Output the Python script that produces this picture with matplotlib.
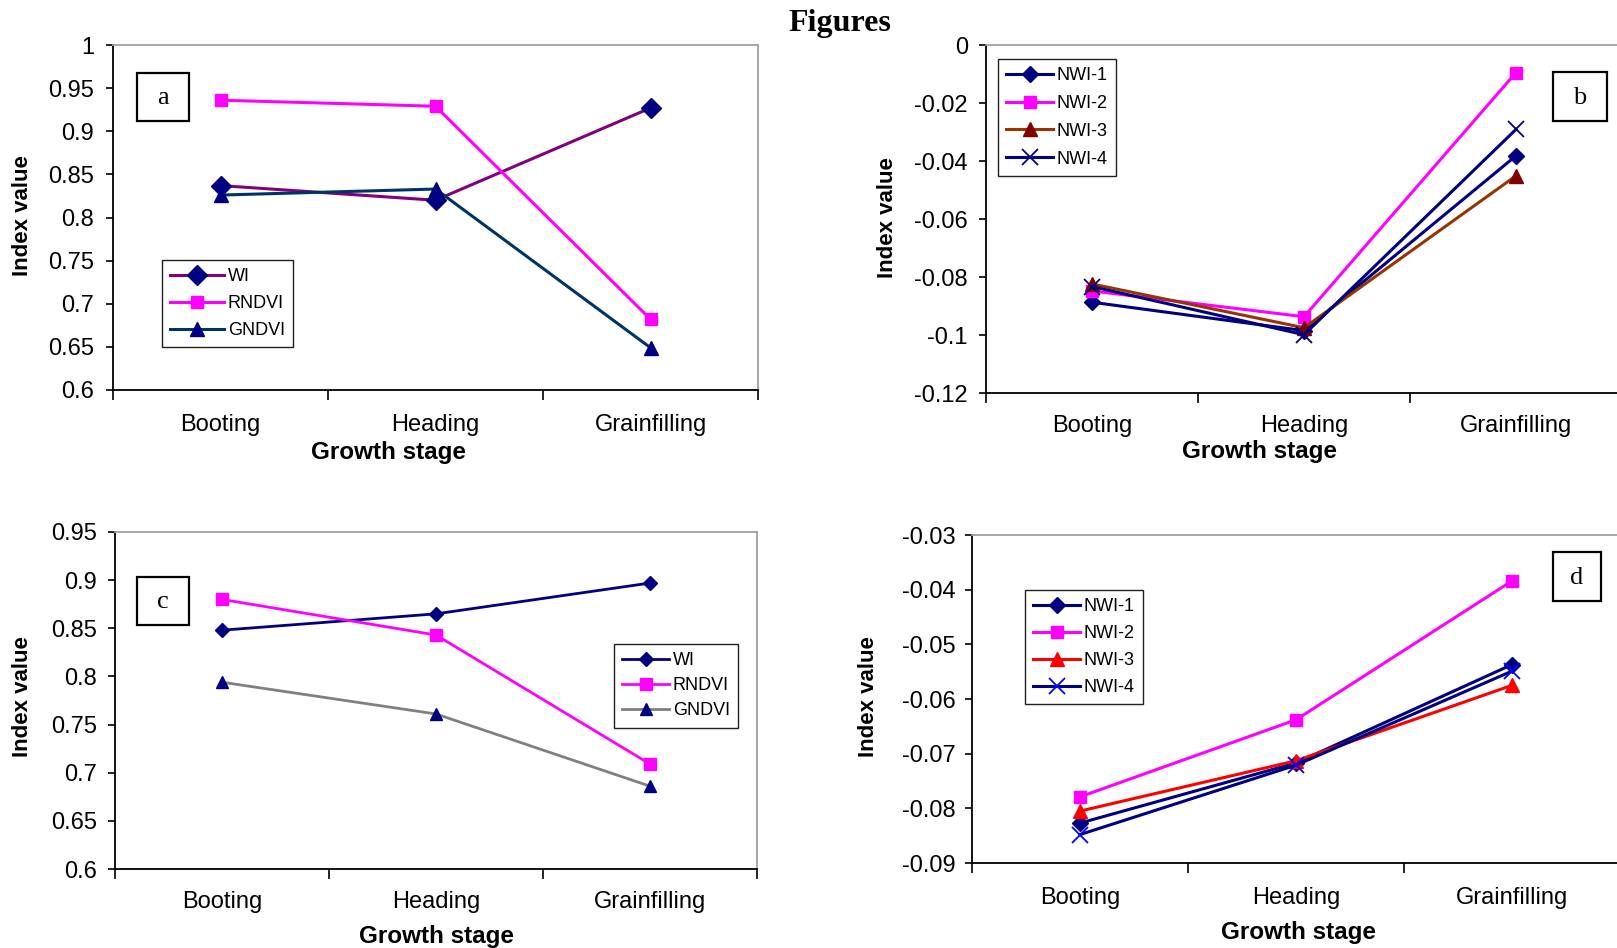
import matplotlib
matplotlib.use("Agg")
import matplotlib.pyplot as plt
from matplotlib.patches import Rectangle

# ---------------- data ----------------
stages = ["Booting", "Heading", "Grainfilling"]

a_WI = [0.837, 0.820, 0.927]
a_RNDVI = [0.936, 0.929, 0.682]
a_GNDVI = [0.826, 0.833, 0.649]

b_NWI1 = [-0.0887, -0.0985, -0.0382]
b_NWI2 = [-0.0848, -0.0937, -0.0095]
b_NWI3 = [-0.0824, -0.0975, -0.0451]
b_NWI4 = [-0.0833, -0.0999, -0.0291]

c_WI = [0.848, 0.865, 0.897]
c_RNDVI = [0.880, 0.843, 0.709]
c_GNDVI = [0.794, 0.761, 0.686]

d_NWI1 = [-0.0827, -0.0717, -0.0537]
d_NWI2 = [-0.0779, -0.0638, -0.0384]
d_NWI3 = [-0.0805, -0.0713, -0.0575]
d_NWI4 = [-0.0848, -0.0721, -0.0549]

a_yticks = [0.6, 0.65, 0.7, 0.75, 0.8, 0.85, 0.9, 0.95, 1]
b_yticks = [-0.12, -0.1, -0.08, -0.06, -0.04, -0.02, 0]
c_yticks = [0.6, 0.65, 0.7, 0.75, 0.8, 0.85, 0.9, 0.95]
d_yticks = [-0.09, -0.08, -0.07, -0.06, -0.05, -0.04, -0.03]

# ---------------- style ----------------
plt.rcParams['font.family'] = ['Liberation Sans', 'DejaVu Sans']
W, H = 1617, 948
fig = plt.figure(figsize=(W / 100, H / 100), dpi=100)
fig.patch.set_facecolor('white')

NAVY = '#000080'
MAG = '#FF00FF'
PURP = '#800080'
TEAL = '#003366'
BROWN = '#993300'
DRED = '#800000'
RED = '#FF0000'
GREY = '#808080'
BLUE = '#0000FF'

TICK_FS = 17


def fx(x):
    return x / W


def fy(y):
    return 1 - y / H


def add_ax(l, t, r, b):
    return fig.add_axes([l / W, 1 - b / H, (r - l) / W, (b - t) / H])


def fmt(v):
    s = ('%.2f' % v).rstrip('0').rstrip('.')
    if s == '-0':
        s = '0'
    return s


def style_axes(ax, yticks, ylim, xright, xpad, ypad, show_right=True):
    ax.set_xlim(-0.5, xright)
    ax.set_ylim(*ylim)
    ax.set_yticks(yticks)
    ax.set_yticklabels([fmt(v) for v in yticks], fontsize=TICK_FS)
    ax.set_xticks([-0.5, 0.5, 1.5, 2.5])
    ax.set_xticklabels([])
    ax.set_xticks([0, 1, 2], minor=True)
    ax.set_xticklabels(stages, minor=True, fontsize=TICK_FS)
    ax.tick_params(axis='x', which='major', length=7, width=1.2, direction='out')
    ax.tick_params(axis='x', which='minor', length=0, pad=xpad)
    ax.tick_params(axis='y', length=5, width=1.2, direction='out', pad=ypad)
    for s in ['left', 'bottom']:
        ax.spines[s].set_color('black')
        ax.spines[s].set_linewidth(1.3)
    for s in ['top', 'right']:
        ax.spines[s].set_color('#A0A0A0')
        ax.spines[s].set_linewidth(1.3)
    if not show_right:
        ax.spines['right'].set_visible(False)
    ax.set_facecolor('white')


def label_box(x0, y0, x1, y1, letter):
    fig.add_artist(Rectangle((fx(x0), fy(y1)), fx(x1) - fx(x0), fy(y0) - fy(y1),
                             transform=fig.transFigure, fill=True, facecolor='white',
                             edgecolor='black', linewidth=1.6, zorder=5))
    fig.text(fx((x0 + x1) / 2), fy((y0 + y1) / 2 + 1), letter, ha='center', va='center',
             fontsize=19, family='Liberation Serif', zorder=6)


def axis_labels(gx, gy, ix, iy):
    fig.text(fx(gx), fy(gy), 'Growth stage', ha='center', va='center',
             fontsize=17.5, fontweight='bold')
    fig.text(fx(ix), fy(iy), 'Index value', ha='center', va='center',
             fontsize=16, fontweight='bold', rotation=90)


def legend(ax, x0, y0, spacing, hl):
    leg = ax.legend(loc='upper left', bbox_to_anchor=(fx(x0), fy(y0)),
                    bbox_transform=fig.transFigure, borderaxespad=0,
                    fontsize=13, handlelength=hl, handletextpad=0.2,
                    labelspacing=spacing, borderpad=0.45, frameon=True,
                    fancybox=False, shadow=False)
    fr = leg.get_frame()
    fr.set_edgecolor('#202020')
    fr.set_linewidth(1.0)
    fr.set_alpha(1)
    return leg


x = [0, 1, 2]
LW = 2.2

# ---------------- panel a ----------------
ax = add_ax(113, 45, 758, 390)
style_axes(ax, a_yticks, (0.6, 1.0), 2.5, 17.5, 8.5)
ax.plot(x, a_WI, color=PURP, lw=LW, marker='D', ms=10, mfc=NAVY, mec=NAVY, label='WI')
ax.plot(x, a_RNDVI, color=MAG, lw=LW, marker='s', ms=9, mfc=MAG, mec=MAG, label='RNDVI')
ax.plot(x, a_GNDVI, color=TEAL, lw=LW, marker='^', ms=10, mfc=NAVY, mec=NAVY, label='GNDVI')
legend(ax, 162, 260, 0.55, 3.0)
label_box(137, 73, 189, 121, 'a')
axis_labels(388, 453, 23, 216)

# ---------------- panel b ----------------
ax = add_ax(986, 45, 1622, 393)
style_axes(ax, b_yticks, (-0.12, 0.0), 2.5, 16, 8, show_right=False)
ax.plot(x, b_NWI1, color=NAVY, lw=LW, marker='D', ms=8, mfc=NAVY, mec=NAVY, label='NWI-1')
ax.plot(x, b_NWI2, color=MAG, lw=LW, marker='s', ms=8, mfc=MAG, mec=MAG, label='NWI-2')
ax.plot(x, b_NWI3, color=BROWN, lw=LW, marker='^', ms=10, mfc=DRED, mec=DRED, label='NWI-3')
ax.plot(x, b_NWI4, color=NAVY, lw=LW, marker='x', ms=12, mew=1.3, mec=NAVY, label='NWI-4')
legend(ax, 998, 59, 0.6, 2.6)
label_box(1553, 72, 1607, 121, 'b')
axis_labels(1259, 452, 887, 218)

# ---------------- panel c ----------------
ax = add_ax(115, 532, 757, 869)
style_axes(ax, c_yticks, (0.6, 0.95), 2.5, 15.5, 8)
ax.plot(x, c_WI, color=NAVY, lw=2.0, marker='D', ms=7, mfc=NAVY, mec=NAVY, label='WI')
ax.plot(x, c_RNDVI, color=MAG, lw=2.0, marker='s', ms=8, mfc=MAG, mec=MAG, label='RNDVI')
ax.plot(x, c_GNDVI, color=GREY, lw=2.0, marker='^', ms=9, mfc=NAVY, mec=NAVY, label='GNDVI')
legend(ax, 614, 644, 0.45, 2.6)
label_box(137, 577, 189, 625, 'c')
axis_labels(436, 936, 23, 697)

# ---------------- panel d ----------------
ax = add_ax(972, 535, 1620, 863)
style_axes(ax, d_yticks, (-0.09, -0.03), 2.5, 17.5, 7, show_right=False)
ax.plot(x, d_NWI1, color=NAVY, lw=LW, marker='D', ms=8, mfc=NAVY, mec=NAVY, label='NWI-1')
ax.plot(x, d_NWI2, color=MAG, lw=LW, marker='s', ms=9, mfc=MAG, mec=MAG, label='NWI-2')
ax.plot(x, d_NWI3, color=RED, lw=LW, marker='^', ms=10, mfc=RED, mec=RED, label='NWI-3')
ax.plot(x, d_NWI4, color=NAVY, lw=LW, marker='x', ms=11, mew=1.3, mec=BLUE, label='NWI-4')
legend(ax, 1025, 590, 0.55, 2.6)
label_box(1553, 552, 1601, 601, 'd')
axis_labels(1298, 933, 868, 697)

# ---------------- title ----------------
fig.text(fx(840), fy(23), 'Figures', ha='center', va='center', fontsize=23,
         fontweight='bold', family='Liberation Serif')

fig.savefig('out.png', dpi=100, facecolor='white')
